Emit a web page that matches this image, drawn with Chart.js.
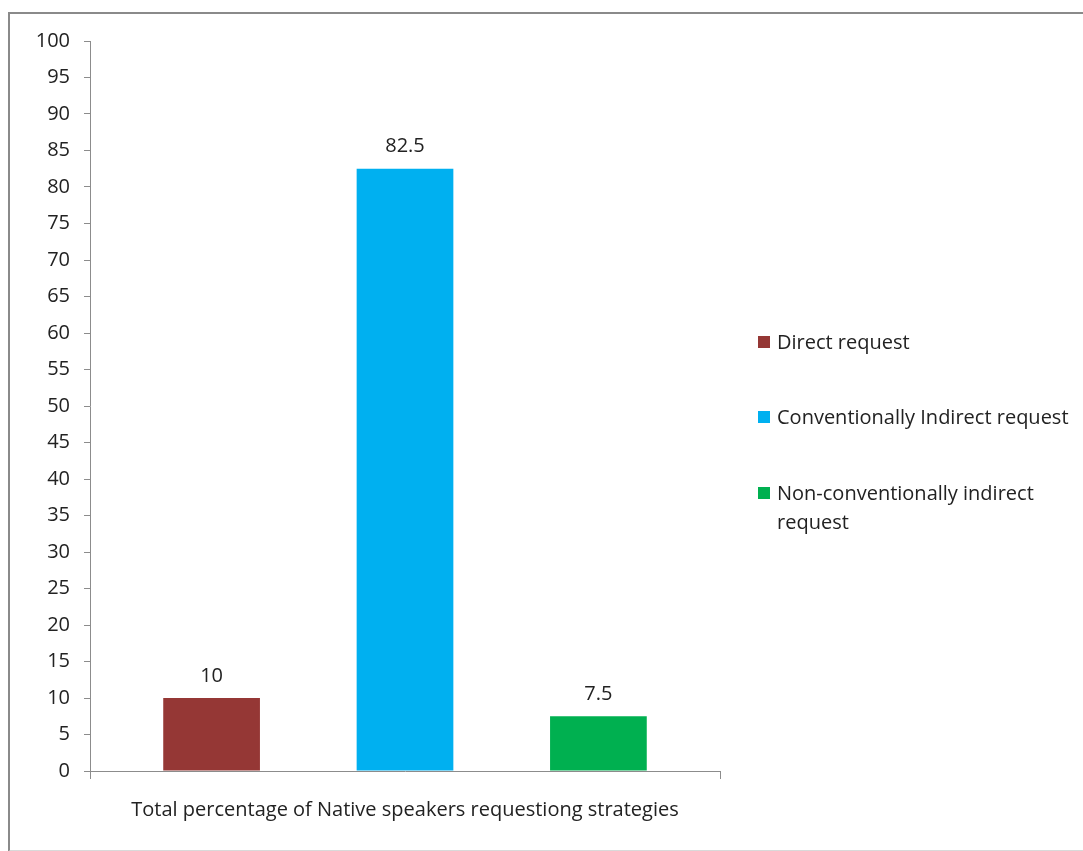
<!DOCTYPE html>
<html>
<head>
<meta charset="utf-8">
<script src="https://cdn.jsdelivr.net/npm/chart.js@4"></script>
<style>
  html, body { margin: 0; padding: 0; background: #fff; width: 1083px; height: 851px; overflow: hidden; }
  #frame { position: absolute; left: 8px; top: 12px; width: 1100px; height: 836px;
           border-left: 2px solid #8a8a8a; border-top: 2px solid #8a8a8a; border-bottom: 2px solid #d9d9d9; }
  #wrap { position: absolute; left: 0; top: 0; width: 1083px; height: 851px; }
  #legend { position: absolute; left: 758px; top: 0; font-family: "Open Sans", sans-serif; font-size: 20px; color: #222; }
  .item { position: absolute; left: 0; width: 330px; display: flex; align-items: flex-start; line-height: 29px; }
  .sw { width: 12px; height: 12px; margin-top: 9px; margin-right: 7px; flex: none; }
</style>
</head>
<body>
<div id="frame"></div>
<div id="wrap"><canvas id="c" width="1083" height="851"></canvas></div>
<div id="legend"></div>
<script>
const categories = ["Total percentage of Native speakers requestiong strategies"];
const seriesNames = ["Direct request", "Conventionally Indirect request", "Non-conventionally indirect request"];
const seriesValues = [[10], [82.5], [7.5]];
const seriesColors = ["#953735", "#00B0F0", "#00B050"];
const legendLines = [["Direct request"], ["Conventionally Indirect request"], ["Non-conventionally indirect", "request"]];
const legendTops = [327, 402, 478];

const font = "'Open Sans', sans-serif";

const valueLabels = {
  id: 'valueLabels',
  afterDatasetsDraw(chart) {
    const ctx = chart.ctx;
    ctx.save();
    ctx.font = "20px " + font;
    ctx.fillStyle = "#222";
    ctx.textAlign = "center";
    ctx.textBaseline = "bottom";
    chart.data.datasets.forEach((ds, i) => {
      const meta = chart.getDatasetMeta(i);
      meta.data.forEach((bar, j) => {
        ctx.fillText(String(ds.data[j]), bar.x, bar.y - 12);
      });
    });
    ctx.restore();
  }
};

new Chart(document.getElementById('c'), {
  type: 'bar',
  data: {
    labels: categories,
    datasets: seriesNames.map((n, i) => ({
      label: n,
      data: seriesValues[i],
      backgroundColor: seriesColors[i],
      borderWidth: 0,
      categoryPercentage: 0.921,
      barPercentage: 0.5
    }))
  },
  options: {
    responsive: false,
    animation: false,
    layout: { padding: { left: 0, top: 41, right: 363, bottom: 0 } },
    plugins: { legend: { display: false }, tooltip: { enabled: false } },
    scales: {
      y: {
        min: 0, max: 100,
        ticks: { stepSize: 5, font: { family: font, size: 20 }, color: "#222", padding: 14 },
        grid: { drawOnChartArea: false, tickLength: 6, color: "#8c8c8c" },
        border: { color: "#8c8c8c", width: 1 },
        afterFit(s) { s.width = 90; }
      },
      x: {
        ticks: { font: { family: font, size: 20 }, color: "#222", padding: 19 },
        grid: { drawOnChartArea: false, tickLength: 8, color: "#8c8c8c", offset: true },
        border: { color: "#8c8c8c", width: 1 },
        afterFit(s) { s.height = 80; }
      }
    }
  },
  plugins: [valueLabels]
});

const lg = document.getElementById('legend');
seriesNames.forEach((n, i) => {
  const d = document.createElement('div');
  d.className = 'item';
  d.style.top = legendTops[i] + 'px';
  const sw = document.createElement('div');
  sw.className = 'sw';
  sw.style.background = seriesColors[i];
  const t = document.createElement('div');
  t.innerHTML = legendLines[i].join('<br>');
  d.appendChild(sw); d.appendChild(t);
  lg.appendChild(d);
});
</script>
</body>
</html>
